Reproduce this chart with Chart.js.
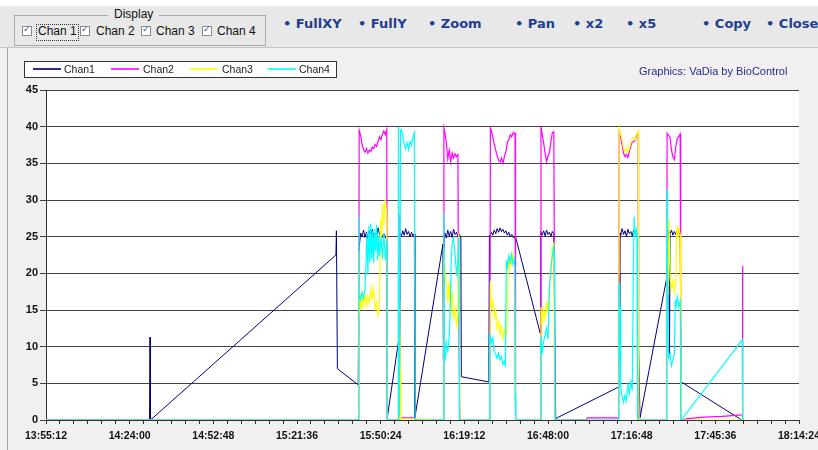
<!DOCTYPE html>
<html>
<head>
<meta charset="utf-8">
<script src="https://cdn.jsdelivr.net/npm/chart.js@4.4.1/dist/chart.umd.min.js"></script>
<style>
  html, body { margin: 0; padding: 0; }
  body { width: 818px; height: 450px; overflow: hidden; position: relative; background: #f0f0f0; font-family: "Liberation Sans", Arial, sans-serif; }
  .abs { position: absolute; white-space: nowrap; }
  #topStrip { left: 0; top: 0; width: 818px; height: 6px; background: #fff; }
  #toolbar { left: 0; top: 6px; width: 818px; height: 41px; background: #e8e8e8; border-bottom: 1px solid #c4c4c4; }
  #panel { left: 7px; top: 48px; width: 811px; height: 402px; border-left: 1px solid #a8a8a8; }
  #group { left: 14px; top: 15px; width: 250px; height: 29px; border: 1px solid #a9a9a9; }
  #groupTitle { left: 108px; top: 7px; padding: 0 6px; background: #e8e8e8; font-size: 12px; line-height: 14px; color: #111; }
  .cb { width: 8px; height: 8px; border: 1px solid #8c8c8c; background: #fff; top: 26px; }
  .cb span { position: absolute; left: 0; top: -3px; font: 9px "DejaVu Sans"; color: #3355aa; }
  .cbText { top: 24px; font-size: 12px; line-height: 14px; color: #111; }
  #focus { left: 36px; top: 24px; width: 41px; height: 15px; border: 1px dotted #333; }
  .btn { top: 16px; font: bold 13px "DejaVu Sans", Verdana, sans-serif; line-height: 16px; color: #1f3e91; }
  #legendBox { left: 24px; top: 61px; width: 313px; height: 17px; box-sizing: border-box; border: 1px solid #333; background: #fff; }
  .lgLine { top: 68px; width: 28px; height: 2px; z-index: 5; }
  .lgText { top: 63px; font-size: 10.5px; line-height: 12px; color: #222; z-index: 5; }
  #credit { left: 639px; top: 65px; font-size: 11px; line-height: 13px; color: #2a2a8a; }
  #wrap { left: 0; top: 48px; width: 860px; height: 402px; }
</style>
</head>
<body>
<div id="topStrip" class="abs"></div>
<div id="toolbar" class="abs"></div>
<div id="panel" class="abs"></div>

<div id="group" class="abs"></div>
<div id="groupTitle" class="abs">Display</div>
<div class="abs cb" style="left:22px"><span>✓</span></div>
<div class="abs cbText" style="left:38px">Chan 1</div>
<div id="focus" class="abs"></div>
<div class="abs cb" style="left:80px"><span>✓</span></div>
<div class="abs cbText" style="left:96px">Chan 2</div>
<div class="abs cb" style="left:141px"><span>✓</span></div>
<div class="abs cbText" style="left:156px">Chan 3</div>
<div class="abs cb" style="left:202px"><span>✓</span></div>
<div class="abs cbText" style="left:217px">Chan 4</div>

<div class="abs btn" style="left:283px">• FullXY</div>
<div class="abs btn" style="left:358px">• FullY</div>
<div class="abs btn" style="left:428px">• Zoom</div>
<div class="abs btn" style="left:515px">• Pan</div>
<div class="abs btn" style="left:573px">• x2</div>
<div class="abs btn" style="left:626px">• x5</div>
<div class="abs btn" style="left:702px">• Copy</div>
<div class="abs btn" style="left:766px">• Close</div>

<div id="wrap" class="abs"><canvas id="myChart" width="860" height="402"></canvas></div>

<div id="legendBox" class="abs"></div>
<div class="abs lgLine" style="left:33px;background-color:#2a2a8c"></div>
<div class="abs lgText" style="left:64px">Chan1</div>
<div class="abs lgLine" style="left:111px;background-color:#ff33ff"></div>
<div class="abs lgText" style="left:143px">Chan2</div>
<div class="abs lgLine" style="left:190px;background-color:#ffff33"></div>
<div class="abs lgText" style="left:222px">Chan3</div>
<div class="abs lgLine" style="left:268px;background-color:#33ffff"></div>
<div class="abs lgText" style="left:299px">Chan4</div>
<div id="credit" class="abs">Graphics: VaDia by BioControl</div>

<script>
// Dữ liệu: [thời gian, giá trị]
const chan1 = [
  ['13:55:12', 0], ['14:30:50', 0], ['14:31:00', 11.3], ['14:31:10', 0],
  ['15:35:00', 22.5], ['15:35:10', 25.8], ['15:35:30', 7.0], ['15:42:40', 4.8],
  ['15:43:00', 23.5], ['15:43:30', 25.5], ['15:44:00', 25.0], ['15:44:30', 25.9], ['15:45:00', 24.9], ['15:45:30', 25.6],
  ['15:46:00', 24.7], ['15:46:30', 25.8], ['15:47:00', 25.1], ['15:47:30', 26.0], ['15:48:00', 24.8], ['15:48:30', 25.5],
  ['15:49:00', 25.1], ['15:49:30', 26.2], ['15:50:00', 25.3], ['15:50:30', 25.7], ['15:51:00', 24.9], ['15:51:30', 25.4],
  ['15:52:00', 25.0], ['15:52:30', 24.6], ['15:52:40', 0.3],
  ['15:56:50', 11.5], ['15:57:00', 25.4], ['15:57:30', 25.0], ['15:58:00', 25.8], ['15:58:30', 25.2], ['15:59:00', 26.1],
  ['15:59:30', 25.3], ['16:00:00', 25.7], ['16:00:30', 25.0], ['16:01:00', 25.6], ['16:01:30', 25.1], ['16:02:00', 25.4],
  ['16:02:10', 0.3],
  ['16:11:50', 24.0], ['16:12:00', 8.2], ['16:12:20', 25.2], ['16:12:30', 25.5], ['16:13:00', 24.8], ['16:13:30', 25.9],
  ['16:14:00', 25.1], ['16:14:30', 25.7], ['16:15:00', 24.9], ['16:15:30', 26.0], ['16:16:00', 25.3], ['16:16:30', 25.6],
  ['16:17:00', 25.0], ['16:17:30', 25.4], ['16:18:00', 24.8], ['16:18:10', 5.9],
  ['16:27:30', 5.2], ['16:27:40', 9.5], ['16:27:50', 25.2], ['16:28:00', 25.0], ['16:28:30', 25.6], ['16:29:00', 25.2],
  ['16:29:30', 25.9], ['16:30:00', 25.4], ['16:30:30', 26.1], ['16:31:00', 25.6], ['16:31:30', 26.2], ['16:32:00', 25.7],
  ['16:32:30', 26.0], ['16:33:00', 25.5], ['16:33:30', 25.8], ['16:34:00', 25.2], ['16:34:30', 25.6], ['16:35:00', 25.0],
  ['16:35:30', 25.3], ['16:36:00', 24.9], ['16:36:30', 24.8], ['16:36:50', 25.0],
  ['16:45:20', 11.8], ['16:45:30', 25.7], ['16:46:00', 25.2], ['16:46:30', 25.8], ['16:47:00', 25.1], ['16:47:30', 25.9],
  ['16:48:00', 25.3], ['16:48:30', 25.6], ['16:49:00', 25.0], ['16:49:30', 25.7], ['16:50:00', 25.4], ['16:50:20', 11.4],
  ['16:50:40', 0.2],
  ['17:12:20', 4.5], ['17:12:30', 20.0], ['17:12:40', 8.2], ['17:12:50', 25.5], ['17:13:00', 25.2], ['17:13:30', 26.1],
  ['17:14:00', 25.3], ['17:14:30', 25.8], ['17:15:00', 25.0], ['17:15:30', 26.0], ['17:16:00', 25.4], ['17:16:30', 25.7],
  ['17:17:00', 25.1], ['17:17:30', 25.9], ['17:18:00', 25.3], ['17:18:30', 25.5], ['17:19:00', 25.2], ['17:19:10', 10.0],
  ['17:19:40', 0.3],
  ['17:28:50', 19.3], ['17:29:00', 25.3], ['17:29:30', 25.8], ['17:29:50', 8.6], ['17:30:00', 25.4], ['17:30:30', 25.9],
  ['17:31:00', 25.2], ['17:31:30', 25.7], ['17:32:00', 25.3], ['17:32:30', 25.8], ['17:33:00', 25.5], ['17:33:30', 25.4],
  ['17:33:50', 5.2],
  ['17:54:40', 0], ['17:55:30', 0]
];

const chan2 = [
  ['13:55:12', 0], ['15:42:50', 0], ['15:43:00', 39.5], ['15:43:30', 38.8], ['15:44:00', 37.6], ['15:44:30', 36.9],
  ['15:45:00', 36.5], ['15:45:30', 37.0], ['15:46:00', 36.4], ['15:46:30', 36.8], ['15:47:00', 36.6], ['15:47:30', 37.2],
  ['15:48:00', 37.0], ['15:48:30', 37.6], ['15:49:00', 37.3], ['15:49:30', 38.0], ['15:50:00', 38.6], ['15:50:30', 38.2],
  ['15:51:00', 39.0], ['15:51:30', 39.4], ['15:52:00', 38.9], ['15:52:30', 39.6], ['15:52:40', 0],
  ['15:56:50', 0], ['15:57:00', 28.0], ['15:57:10', 0.3], ['16:02:10', 0.3], ['16:02:20', 0],
  ['16:12:00', 0], ['16:12:10', 39.8], ['16:12:30', 39.2], ['16:13:00', 37.8], ['16:13:30', 35.6], ['16:14:00', 36.8],
  ['16:14:30', 35.2], ['16:15:00', 36.4], ['16:15:30', 35.7], ['16:16:00', 36.3], ['16:16:30', 35.9], ['16:17:00', 36.2],
  ['16:17:10', 19.0], ['16:17:40', 0],
  ['16:28:00', 0], ['16:28:10', 39.8], ['16:28:30', 39.5], ['16:29:00', 38.6], ['16:29:30', 37.6], ['16:30:00', 36.8],
  ['16:30:30', 36.0], ['16:31:00', 35.4], ['16:31:30', 35.2], ['16:32:00', 35.7], ['16:32:30', 35.0], ['16:33:00', 35.9],
  ['16:33:30', 36.6], ['16:34:00', 37.8], ['16:34:30', 38.2], ['16:35:00', 38.9], ['16:35:30', 38.6], ['16:36:00', 39.2],
  ['16:36:30', 39.0], ['16:36:40', 39.1], ['16:36:50', 0],
  ['16:45:25', 0], ['16:45:35', 40.0], ['16:46:00', 39.0], ['16:46:30', 37.8], ['16:47:00', 36.4], ['16:47:30', 35.2],
  ['16:48:00', 36.0], ['16:48:30', 36.5], ['16:49:00', 38.0], ['16:49:30', 39.2], ['16:50:00', 39.3], ['16:50:20', 11.4],
  ['16:50:30', 0],
  ['17:01:20', 0.1], ['17:01:30', 0.3], ['17:12:20', 0.3], ['17:12:30', 39.2], ['17:13:00', 38.6], ['17:13:30', 37.5],
  ['17:14:00', 36.4], ['17:14:30', 35.9], ['17:15:00', 36.2], ['17:15:30', 35.8], ['17:16:00', 36.6], ['17:16:30', 37.4],
  ['17:17:00', 37.9], ['17:17:30', 38.0], ['17:18:00', 38.1], ['17:18:30', 38.8], ['17:19:00', 39.0], ['17:19:10', 0],
  ['17:28:50', 0], ['17:29:00', 39.1], ['17:29:30', 38.8], ['17:30:00', 38.6], ['17:30:30', 36.8], ['17:31:00', 35.9],
  ['17:31:30', 35.5], ['17:32:00', 37.3], ['17:32:30', 38.4], ['17:33:00', 38.6], ['17:33:30', 39.0], ['17:33:40', 15.0],
  ['17:33:50', 0],
  ['17:36:00', 0.2], ['17:42:00', 0.4], ['17:48:00', 0.5], ['17:54:50', 0.7], ['17:55:00', 21.0]
];

const chan3 = [
  ['13:55:12', 0], ['15:42:50', 0], ['15:42:55', 23.0], ['15:43:00', 14.0], ['15:43:20', 17.3], ['15:43:40', 15.0],
  ['15:44:00', 16.8], ['15:44:30', 15.6], ['15:45:00', 17.2], ['15:45:30', 15.5], ['15:46:00', 16.9], ['15:46:30', 16.0],
  ['15:47:00', 17.8], ['15:47:30', 16.5], ['15:48:00', 18.0], ['15:48:30', 15.2], ['15:49:00', 16.0], ['15:49:30', 14.3],
  ['15:50:00', 15.5], ['15:50:20', 27.3], ['15:50:40', 24.5], ['15:51:00', 29.5], ['15:51:30', 26.4], ['15:52:00', 30.0],
  ['15:52:30', 28.0], ['15:52:40', 0],
  ['15:56:50', 0], ['15:57:00', 16.4], ['15:57:10', 6.8], ['15:57:20', 0.2],
  ['16:12:00', 0], ['16:12:10', 23.6], ['16:12:30', 20.0], ['16:13:00', 18.5], ['16:13:30', 16.0], ['16:14:00', 18.8],
  ['16:14:30', 14.5], ['16:15:00', 17.6], ['16:15:30', 13.8], ['16:16:00', 15.2], ['16:16:30', 12.9], ['16:17:00', 14.5],
  ['16:17:20', 25.5], ['16:17:40', 0],
  ['16:28:00', 0], ['16:28:10', 19.0], ['16:28:30', 15.5], ['16:29:00', 16.2], ['16:29:30', 13.9], ['16:30:00', 15.0],
  ['16:30:30', 12.5], ['16:31:00', 13.4], ['16:31:30', 11.6], ['16:32:00', 12.8], ['16:32:30', 11.0], ['16:33:00', 12.2],
  ['16:33:30', 11.5], ['16:34:00', 13.5], ['16:34:20', 21.8], ['16:34:40', 20.9], ['16:35:00', 22.4], ['16:35:30', 21.2],
  ['16:36:00', 22.5], ['16:36:30', 21.0], ['16:36:50', 0],
  ['16:45:25', 0], ['16:45:35', 15.4], ['16:46:00', 13.0], ['16:46:30', 15.2], ['16:47:00', 13.8], ['16:47:30', 16.2],
  ['16:48:00', 14.5], ['16:48:30', 18.5], ['16:49:00', 21.0], ['16:49:30', 23.4], ['16:50:00', 24.0], ['16:50:20', 0],
  ['17:12:20', 0], ['17:12:30', 39.8], ['17:13:00', 39.0], ['17:13:30', 38.2], ['17:14:00', 37.0], ['17:14:30', 36.6],
  ['17:15:00', 37.2], ['17:15:30', 36.5], ['17:16:00', 37.0], ['17:16:30', 37.8], ['17:17:00', 38.3], ['17:17:30', 38.5],
  ['17:18:00', 38.2], ['17:18:30', 39.0], ['17:19:00', 39.4], ['17:19:10', 9.5], ['17:19:20', 0],
  ['17:28:50', 0], ['17:29:00', 29.6], ['17:29:20', 17.0], ['17:29:40', 27.3], ['17:30:00', 19.5], ['17:30:30', 18.0],
  ['17:31:00', 19.0], ['17:31:30', 17.3], ['17:32:00', 18.6], ['17:32:20', 26.4], ['17:32:40', 25.0], ['17:33:00', 26.2],
  ['17:33:30', 25.3], ['17:33:45', 9.5], ['17:34:00', 0],
  ['17:54:50', 0], ['17:55:00', 9.1]
];

const chan4 = [
  ['13:55:12', 0], ['15:42:50', 0], ['15:42:55', 27.7], ['15:43:00', 17.0], ['15:43:30', 16.4], ['15:44:00', 17.4],
  ['15:44:30', 16.6], ['15:45:00', 17.8], ['15:45:20', 21.0], ['15:45:40', 25.5], ['15:46:00', 19.8], ['15:46:20', 26.5],
  ['15:46:40', 21.5], ['15:47:00', 26.8], ['15:47:20', 22.0], ['15:47:40', 25.8], ['15:48:00', 21.4], ['15:48:20', 26.0],
  ['15:48:40', 23.0], ['15:49:00', 26.6], ['15:49:20', 21.8], ['15:49:40', 25.2], ['15:50:00', 22.4], ['15:50:30', 25.0],
  ['15:51:00', 22.0], ['15:51:30', 25.5], ['15:52:00', 21.8], ['15:52:30', 24.6], ['15:52:40', 0],
  ['15:56:25', 0], ['15:56:30', 40.0], ['15:56:50', 0.5], ['15:57:15', 39.5], ['15:57:30', 39.6], ['15:58:00', 38.8],
  ['15:58:30', 37.6], ['15:59:00', 37.0], ['15:59:30', 37.8], ['16:00:00', 36.9], ['16:00:30', 38.0], ['16:01:00', 37.5],
  ['16:01:30', 38.6], ['16:02:00', 39.2], ['16:02:15', 0],
  ['16:12:00', 0], ['16:12:10', 28.2], ['16:12:20', 9.0], ['16:12:40', 8.4], ['16:13:00', 10.5], ['16:13:30', 9.4],
  ['16:14:00', 11.2], ['16:14:20', 15.0], ['16:14:40', 21.5], ['16:15:00', 24.0], ['16:15:30', 24.8], ['16:16:00', 22.6],
  ['16:16:30', 20.0], ['16:17:00', 21.5], ['16:17:20', 25.0], ['16:17:30', 0],
  ['16:27:50', 0], ['16:28:00', 11.8], ['16:28:30', 10.5], ['16:29:00', 11.2], ['16:29:30', 9.3], ['16:30:00', 9.0],
  ['16:30:30', 8.4], ['16:31:00', 9.1], ['16:31:30', 8.2], ['16:32:00', 8.6], ['16:32:30', 7.6], ['16:33:00', 8.0],
  ['16:33:20', 7.5], ['16:33:40', 21.8], ['16:34:00', 20.9], ['16:34:30', 22.4], ['16:35:00', 21.5], ['16:35:30', 22.6],
  ['16:36:00', 21.2], ['16:36:30', 22.0], ['16:36:40', 3.6], ['16:36:55', 0],
  ['16:45:20', 0], ['16:45:30', 11.4], ['16:46:00', 9.0], ['16:46:30', 10.8], ['16:47:00', 11.6], ['16:47:30', 12.5],
  ['16:48:00', 11.0], ['16:48:30', 18.0], ['16:49:00', 20.5], ['16:49:30', 22.4], ['16:50:00', 23.8], ['16:50:15', 21.8],
  ['16:50:25', 0],
  ['17:12:20', 0], ['17:12:30', 18.7], ['17:12:40', 8.0], ['17:12:50', 15.5], ['17:13:00', 4.5], ['17:13:30', 3.2],
  ['17:14:00', 2.4], ['17:14:30', 3.4], ['17:15:00', 2.6], ['17:15:30', 4.8], ['17:16:00', 3.6], ['17:16:30', 5.2],
  ['17:17:00', 4.0], ['17:17:20', 18.7], ['17:17:40', 27.7], ['17:18:00', 25.0], ['17:18:20', 26.0], ['17:18:40', 25.3],
  ['17:18:50', 0],
  ['17:28:50', 0], ['17:29:00', 31.4], ['17:29:10', 16.0], ['17:29:30', 8.5], ['17:30:00', 9.0], ['17:30:30', 7.4],
  ['17:31:00', 8.2], ['17:31:30', 9.0], ['17:31:50', 16.4], ['17:32:10', 15.6], ['17:32:30', 16.8], ['17:33:00', 15.5],
  ['17:33:30', 16.2], ['17:33:50', 0],
  ['17:54:50', 10.9], ['17:55:00', 0], ['17:55:30', 0]
];

const xStart = '13:55:12';
const xEnd = '18:14:24';
const labelStep = 1728; // 28:48 giữa hai nhãn
const tickStep = 288;   // vạch phụ 4:48

function toSec(s) {
  const p = s.split(':').map(Number);
  return p[0] * 3600 + p[1] * 60 + p[2];
}
function fmt(v) {
  const h = Math.floor(v / 3600), m = Math.floor(v / 60) % 60, s = v % 60;
  return h + ':' + String(m).padStart(2, '0') + ':' + String(s).padStart(2, '0');
}
const xMin = toSec(xStart);
const xMax = toSec(xEnd);

function series(label, rows, color, width, order) {
  return {
    label: label,
    data: rows.map(r => ({ x: toSec(r[0]), y: r[1] })),
    borderColor: color,
    borderWidth: width,
    pointRadius: 0,
    tension: 0,
    fill: false,
    order: order
  };
}

// nền trắng cho vùng vẽ
const plotBg = {
  id: 'plotBg',
  beforeDraw(c) {
    const a = c.chartArea;
    c.ctx.save();
    c.ctx.fillStyle = '#fff';
    c.ctx.fillRect(a.left, a.top, a.right - a.left, a.bottom - a.top);
    c.ctx.restore();
  }
};

const ctx = document.getElementById('myChart').getContext('2d');
const myChart = new Chart(ctx, {
  type: 'line',
  data: {
    datasets: [
      series('Chan1', chan1, '#000080', 1, 4),
      series('Chan2', chan2, '#ff00ff', 1.2, 3),
      series('Chan3', chan3, '#ffff00', 1.2, 2),
      series('Chan4', chan4, '#00ffff', 1.2, 1)
    ]
  },
  options: {
    responsive: false,
    animation: false,
    events: [],
    layout: { padding: { top: 42, right: 61, left: 0, bottom: 0 } },
    plugins: { legend: { display: false }, tooltip: { enabled: false } },
    scales: {
      x: {
        type: 'linear',
        min: xMin,
        max: xMax,
        afterFit: s => { s.height = 30; },
        grid: { drawOnChartArea: false, drawTicks: true, tickLength: 4, color: '#333' },
        border: { display: true, color: '#333' },
        ticks: {
          stepSize: tickStep,
          autoSkip: false,
          maxRotation: 0,
          padding: 6,
          color: '#111',
          font: { family: 'Liberation Sans', size: 10.5, weight: 'bold' },
          callback: v => ((v - xMin) % labelStep === 0 ? fmt(v) : '')
        }
      },
      y: {
        min: 0,
        max: 45,
        afterFit: s => { s.width = 46; },
        grid: { color: '#404040', tickLength: 6 },
        border: { color: '#333' },
        ticks: {
          stepSize: 5,
          padding: 2,
          color: '#111',
          font: { family: 'Liberation Sans', size: 11, weight: 'bold' }
        }
      }
    }
  },
  plugins: [plotBg]
});
</script>
</body>
</html>
